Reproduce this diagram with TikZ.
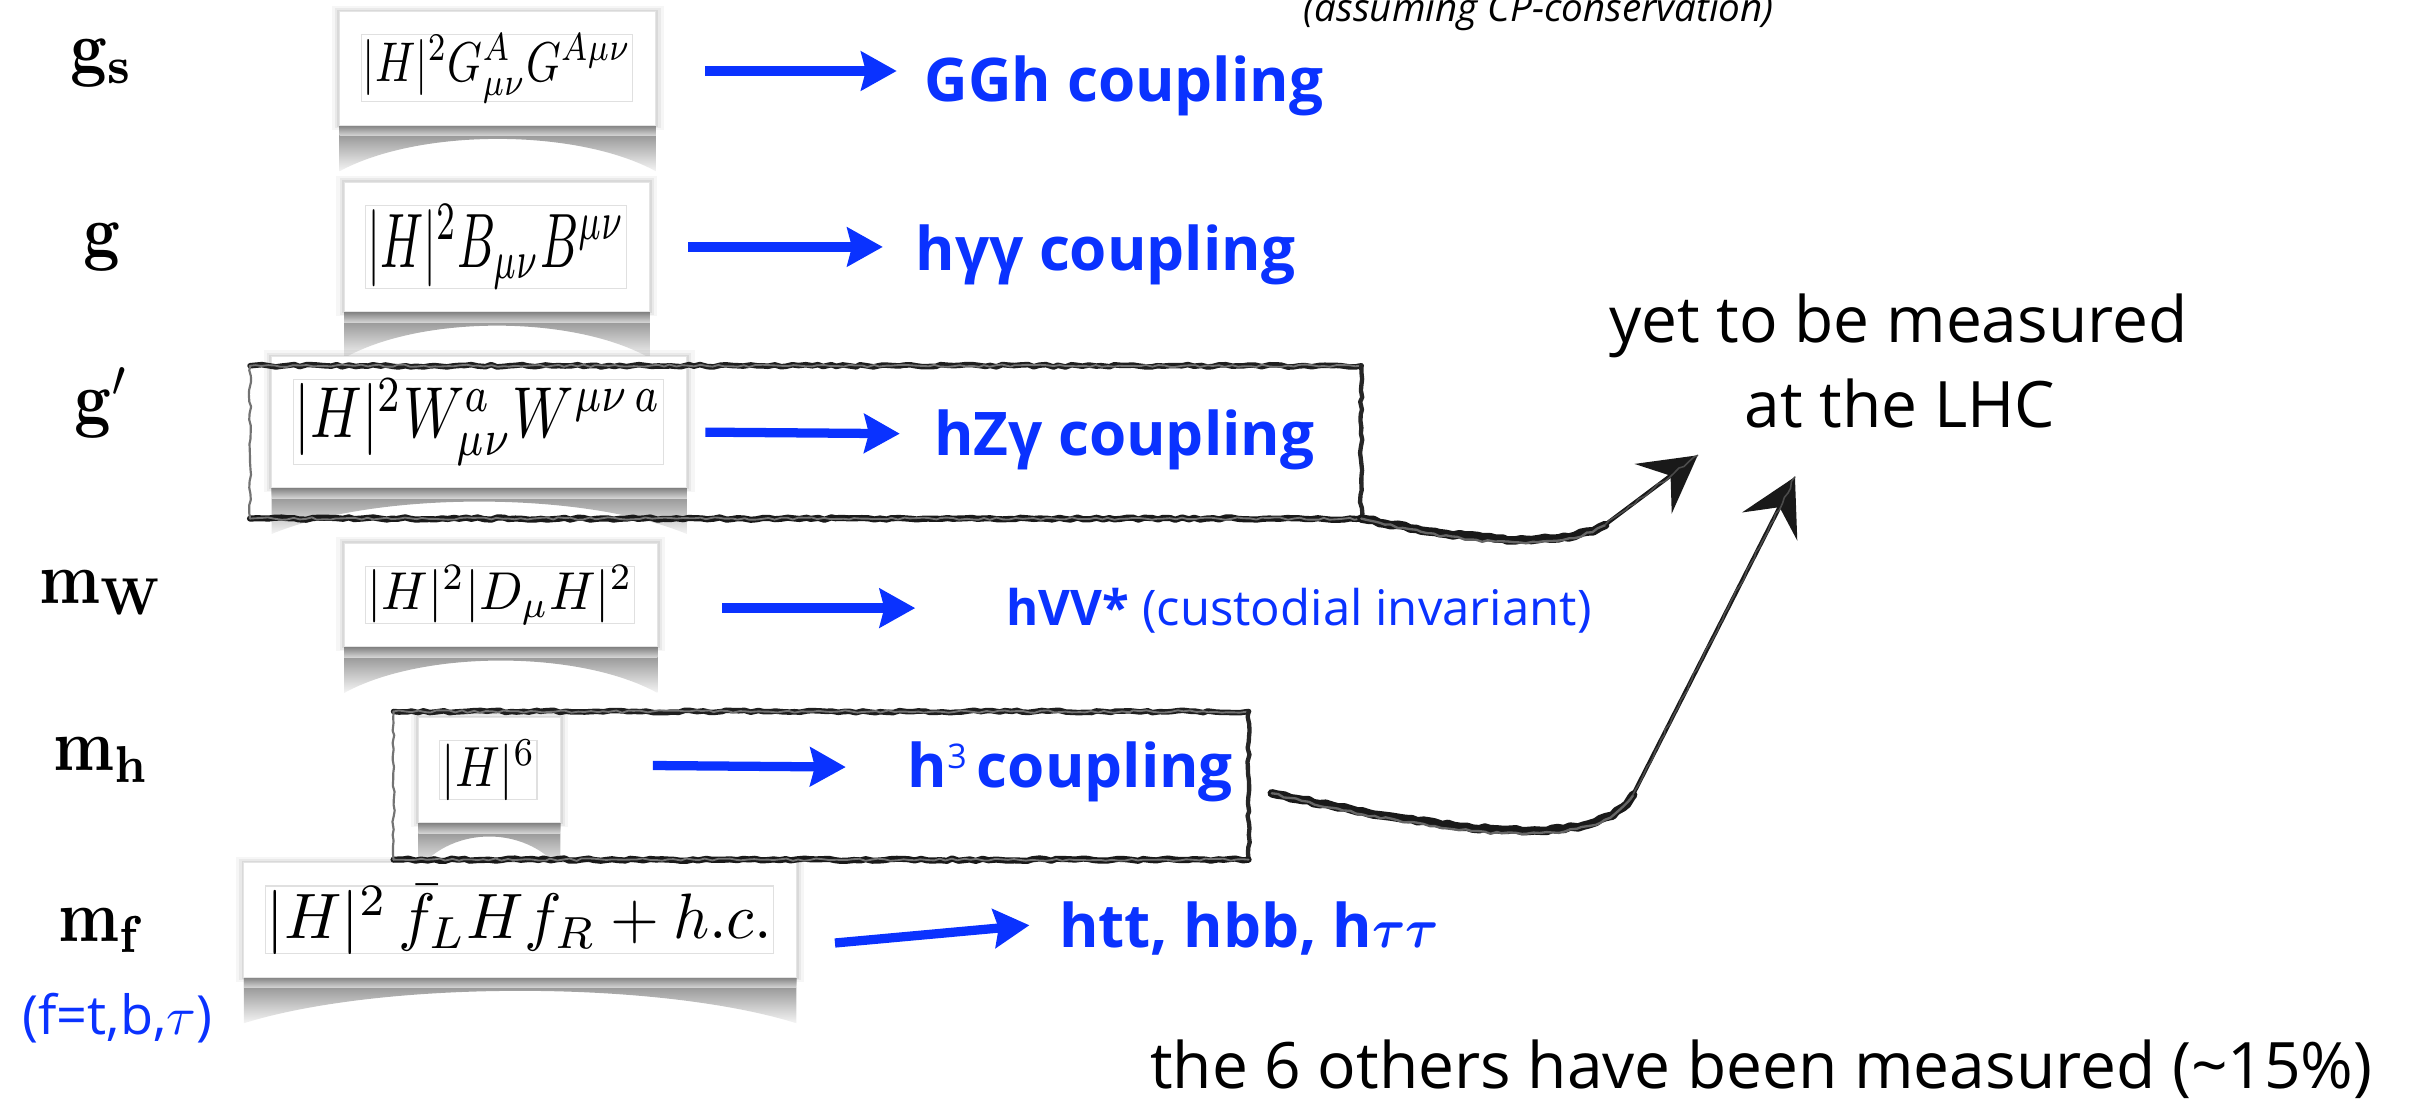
\documentclass[tikz,border=0pt]{standalone}
\usepackage[no-math]{fontspec}
\setmainfont{Open Sans}
\usetikzlibrary{arrows.meta,decorations.pathmorphing}
\definecolor{hblue}{RGB}{10,50,255}

% math typeset at 10pt and scaled up, so no large math font sizes are needed
\newcommand\bigmath[3]{\scalebox{#1}[#2]{\fontsize{10}{12}\selectfont#3}}

% white card holding one operator, with a curled shadow beneath it
\newcommand\formcard[6]{%
  \pgfmathsetmacro\cw{#4-#2}\pgfmathsetmacro\ch{#5-#3}%
  \pgfmathsetmacro\cx{(#2+#4)/2}\pgfmathsetmacro\cy{(#3+#5)/2}%
  \pgfmathsetmacro\fw{#4-#2-31}\pgfmathsetmacro\fh{#5-#3-29}%
  \fill[black,opacity=0.035] (#2-5,#3-4) rectangle (#4+5,#5+3);
  \fill[black,opacity=0.05] (#2-3,#3-2.5) rectangle (#4+3,#5+2);
  \fill[black,opacity=0.07] (#2-1.5,#3-1.2) rectangle (#4+1.5,#5+1);
  \shade[top color=black!50, bottom color=black!4]
    (#2,#5) -- (#2,#5+30) .. controls (\cx-\cw*0.25,#5+2) and (\cx+\cw*0.25,#5+2) .. (#4,#5+30) -- (#4,#5) -- cycle;
  \shade[top color=black!50, bottom color=black!0, opacity=0.6]
    (#2,#5) -- (#4,#5) -- (#4,#5+7) -- (#2,#5+7) -- cycle;
  \node[card, minimum width=\cw pt, minimum height=\ch pt] (#1) at (\cx,\cy) {};
  \draw[innerframe] (#2+14,#3+15) rectangle (#4-15,#5-15);
  \node[inner sep=0] (#1f) at (\cx-0.5,\cy) {\resizebox*{\fw pt}{\fh pt}{\fontsize{10}{12}\selectfont$#6$}};
}

% hand-drawn looking rectangle around a named box node
\newcommand\roughbox[1]{%
  \draw[rough, line width=3.6pt, black!88] (#1.north west) -- (#1.north east);
  \draw[rough, line width=1.2pt, black!55, yshift=-2.5pt] (#1.north west) -- (#1.north east);
  \draw[rough, line width=2.8pt, black!85] (#1.north east) -- (#1.south east);
  \draw[rough, line width=4pt, black!90] (#1.south east) -- (#1.south west);
  \draw[rough, line width=1.2pt, black!55, yshift=2.5pt] (#1.south east) -- (#1.south west);
  \draw[rough, line width=1.4pt, black!55] (#1.south west) -- (#1.north west);
}

\begin{document}
\begin{tikzpicture}[x=1pt,y=-1pt,
  card/.style={fill=white, draw=black!10, line width=0.6pt, inner sep=0, outer sep=0},
  innerframe/.style={draw=black!12, line width=0.8pt},
  framebox/.style={inner sep=0, outer sep=0},
  rough/.style={decorate, decoration={random steps, segment length=4pt, amplitude=0.8pt},
    line cap=round, line join=round},
  lab/.style={inner sep=0, anchor=base},
  txtb/.style={inner sep=0, anchor=base west, text=hblue, font=\fontsize{39}{44}\selectfont\bfseries},
  txtr/.style={inner sep=0, anchor=base, font=\fontsize{41.5}{46}\selectfont},
  bluearrow/.style={draw=hblue, line width=6pt, -{Stealth[length=23pt,width=25pt,inset=3pt]}},
  sketchtip/.style={line width=2.6pt, black!90, -{Stealth[length=36pt,width=40pt,inset=14pt]}}]
\pgfmathsetseed{12}
\useasboundingbox (0,0) rectangle (1568,717);

% coupling labels
\node[lab] (lgs) at (66,47)    {\bigmath{4.13}{4.8}{$\mathbf{g_s}$}};
\node[lab] (lg)  at (66,166.5) {\bigmath{4.13}{4.8}{$\mathbf{g}$}};
\node[lab] (lgp) at (66,274.5) {\bigmath{4.13}{4.8}{$\mathbf{g}'$}};
\node[lab] (lmw) at (66,391)   {\bigmath{4.13}{4.8}{$\mathbf{m_W}$}};
\node[lab] (lmh) at (66,499.5) {\bigmath{4.13}{4.8}{$\mathbf{m_h}$}};
\node[lab] (lmf) at (66,610)   {\bigmath{4.13}{4.8}{$\mathbf{m_f}$}};
\node[inner sep=0, anchor=base, text=hblue, font=\fontsize{35}{40}\selectfont] (lft) at (76,670)
  {(f=t,b,\bigmath{3.5}{3.5}{$\tau$})};

% operators
\formcard{c1}{220}{7.6}{425}{81}{|H|^2G^A_{\mu\nu}G^{A\mu\nu}}
\formcard{c2}{223}{118}{421}{202}{|H|^2B_{\mu\nu}B^{\mu\nu}}
\formcard{c3}{176}{231}{445}{316}{|H|^2W^a_{\mu\nu}W^{\mu\nu\,a}}
\formcard{c4}{223}{352}{426}{419}{|H|^2|D_\mu H|^2}
\formcard{c5}{271}{465}{363}{533}{|H|^6}
\formcard{c6}{158}{559}{516}{633}{|H|^2\,\bar f_LHf_R+h.c.}

% boxes around the two unmeasured couplings
\node[framebox, minimum width=720pt, minimum height=99pt] (f3) at (522,286.5) {};
\node[framebox, minimum width=554pt, minimum height=96pt] (f5) at (532,509) {};
\roughbox{f3}
\roughbox{f5}

% resulting Higgs couplings
\node[txtb] (t1) at (599,66) {GGh coupling};
\node[txtb] (t2) at (593,175) {hγγ coupling};
\node[txtb] (t3) at (605,295) {hZγ coupling};
\node[txtb, font=\fontsize{31.8}{36}\selectfont] (t4) at (652,405) {\textbf{hVV*} (custodial invariant)};
\node[txtb] (t5) at (588,510) {h\raisebox{12pt}{\fontsize{22}{22}\selectfont\mdseries 3}\,coupling};
\node[txtb] (t6) at (686,614) {htt, hbb, h\bigmath{3.3}{3.6}{\boldmath$\tau\tau$}};

% operator -> coupling arrows
\coordinate (a1s) at (457,46);    \coordinate (a1e) at (581,46);
\coordinate (a2s) at (446,160);   \coordinate (a2e) at (572,160);
\coordinate (a3s) at (457,280);   \coordinate (a3e) at (583,281);
\coordinate (a4s) at (468,394);   \coordinate (a4e) at (593,394);
\coordinate (a5s) at (423,496);   \coordinate (a5e) at (548,497);
\coordinate (a6s) at (541,611);   \coordinate (a6e) at (667,599.5);
\foreach \i in {1,...,6} \draw[bluearrow] (a\i s) -- (a\i e);

% notes
\node[inner sep=0, anchor=base, font=\fontsize{25}{28}\selectfont\itshape] (cp) at (997,14) {(assuming CP-conservation)};
\node[txtr] (y1) at (1230,222) {yet to be measured};
\node[txtr] (y2) at (1231,277) {at the LHC};
\node[txtr, anchor=base west] (oth) at (745,705) {the 6 others have been measured (\textasciitilde15\%)};

% hand-drawn arrows towards the note
\coordinate (bA) at (1040,340);  \coordinate (tipA) at (1100,295);
\coordinate (sB) at (824,514);   \coordinate (bB) at (1058,515);  \coordinate (tipB) at (1163,309);
\draw[rough, line width=5.5pt, black!90] (f3.south east) .. controls (950,350) and (1010,356) .. (bA);
\draw[rough, line width=1.5pt, black!60, yshift=-3pt] (f3.south east) .. controls (950,350) and (1010,356) .. (bA);
\draw[sketchtip] (bA) -- (tipA);
\draw[rough, line width=1pt, black!70, xshift=-2pt] (bA) -- (tipA);
\draw[rough, line width=5.5pt, black!90] (sB) .. controls (920,535) and (1035,555) .. (bB);
\draw[rough, line width=1.5pt, black!60, yshift=-3pt] (sB) .. controls (920,535) and (1035,555) .. (bB);
\draw[sketchtip] (bB) -- (tipB);
\draw[rough, line width=1pt, black!70, xshift=-2pt] (bB) -- (tipB);
\end{tikzpicture}
\end{document}
